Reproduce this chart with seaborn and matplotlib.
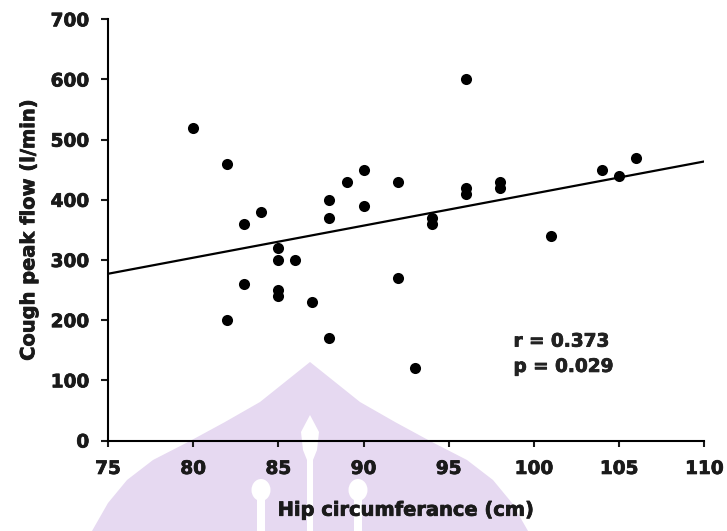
import matplotlib
matplotlib.use("Agg")
import matplotlib.pyplot as plt
import matplotlib.patheffects as pe
from matplotlib.patches import Polygon, Ellipse, Rectangle
import pandas as pd
import seaborn as sns

# Hip circumference (cm) and cough peak flow (l/min) per subject
hip_cm = [80, 82, 83, 84, 83, 82, 85, 85, 86, 85, 85, 87, 88, 88, 88, 89,
          90, 90, 92, 92, 93, 94, 94, 96, 96, 96, 98, 98, 101, 104, 105, 106]
peak_flow = [520, 460, 360, 380, 260, 200, 320, 300, 300, 250, 240, 230, 170,
             400, 370, 430, 450, 390, 430, 270, 120, 370, 360, 600, 420, 410,
             430, 420, 340, 450, 440, 470]

x_ticks = [75, 80, 85, 90, 95, 100, 105, 110]
y_ticks = [0, 100, 200, 300, 400, 500, 600, 700]
stats_lines = ["r = 0.373", "p = 0.029"]

df = pd.DataFrame({"hip": hip_cm, "flow": peak_flow})

sns.set_theme(style="white")
plt.rcParams["font.family"] = ["DejaVu Sans"]
plt.rcParams["font.weight"] = "bold"

W, H = 727, 531
fig = plt.figure(figsize=(W / 100, H / 100), dpi=100)


def fpos(x, y):
    """Pixel position (from top-left) to figure fraction."""
    return (x / W, 1 - y / H)


# faint lavender crest behind the chart (mirror-symmetric about x = 310 px)
lav = "#e6d9f1"
left_edge = [(310, 362), (285, 382), (260, 402), (225, 422), (190, 441),
             (153, 460), (127, 480), (108, 503), (92, 531)]
right_edge = [(620 - x, y) for x, y in left_edge[1:]]
dome = left_edge[::-1] + right_edge
fig.add_artist(Polygon([fpos(*p) for p in dome], closed=True,
                       transform=fig.transFigure, facecolor=lav,
                       edgecolor="none", zorder=0))
flame = [(310, 415), (319, 432), (317, 450), (313, 460), (313, 531),
         (307, 531), (307, 460), (303, 450), (301, 432)]
fig.add_artist(Polygon([fpos(*p) for p in flame], closed=True,
                       transform=fig.transFigure, facecolor="white",
                       edgecolor="none", zorder=0.5))
for cx in (261, 358):
    fig.add_artist(Ellipse(fpos(cx, 490), 19 / W, 22 / H,
                           transform=fig.transFigure, facecolor="white",
                           edgecolor="none", zorder=0.5))
    fig.add_artist(Rectangle(fpos(cx - 4, 531), 8 / W, 32 / H,
                             transform=fig.transFigure, facecolor="white",
                             edgecolor="none", zorder=0.5))

ax = fig.add_axes([108 / W, 1 - 440.5 / H, (704.3 - 108) / W, (440.5 - 19.3) / H])
ax.set_facecolor("none")
ax.set_zorder(1)
ax.set_xlim(x_ticks[0], x_ticks[-1])
ax.set_ylim(y_ticks[0], y_ticks[-1])

sns.regplot(data=df, x="hip", y="flow", ax=ax, ci=None, truncate=False,
            color="black",
            scatter_kws=dict(s=64, linewidths=0, alpha=1),
            line_kws=dict(lw=1.6, color="black"))

ax.set_xlim(x_ticks[0], x_ticks[-1])
ax.set_ylim(y_ticks[0], y_ticks[-1])
ax.set_xticks(x_ticks)
ax.set_yticks(y_ticks)

sns.despine(ax=ax)
for side in ("left", "bottom"):
    ax.spines[side].set_color("black")
    ax.spines[side].set_linewidth(1.5)

ax.tick_params(axis="x", bottom=True, direction="out", length=4, width=1.5,
               pad=10, labelsize=13.3, colors="#1a1a1a")
ax.tick_params(axis="y", left=True, direction="out", length=5, width=1.5,
               pad=8.5, labelsize=13.3, colors="#1a1a1a")

ax.set_xlabel("Hip circumferance (cm)", fontsize=14, fontweight="bold",
              color="#1a1a1a")
ax.set_ylabel("Cough peak flow (l/min)", fontsize=14, fontweight="bold",
              color="#1a1a1a")
ax.xaxis.set_label_coords(0.5, -0.143)
ax.yaxis.set_label_coords(-0.117, 0.5)

t1 = ax.text(98.8, 156, stats_lines[0], fontsize=13.3, fontweight="bold",
             color="#222222", va="baseline", ha="left")
t2 = ax.text(98.8, 114, stats_lines[1], fontsize=13.3, fontweight="bold",
             color="#222222", va="baseline", ha="left")

# heavier glyph weight for all chart text
heavy = [pe.withStroke(linewidth=0.55, foreground="#1a1a1a")]
for txt in (ax.get_xticklabels() + ax.get_yticklabels()
            + [ax.xaxis.label, ax.yaxis.label, t1, t2]):
    txt.set_fontweight("bold")
    txt.set_path_effects(heavy)

fig.savefig("out.png", dpi=100)
